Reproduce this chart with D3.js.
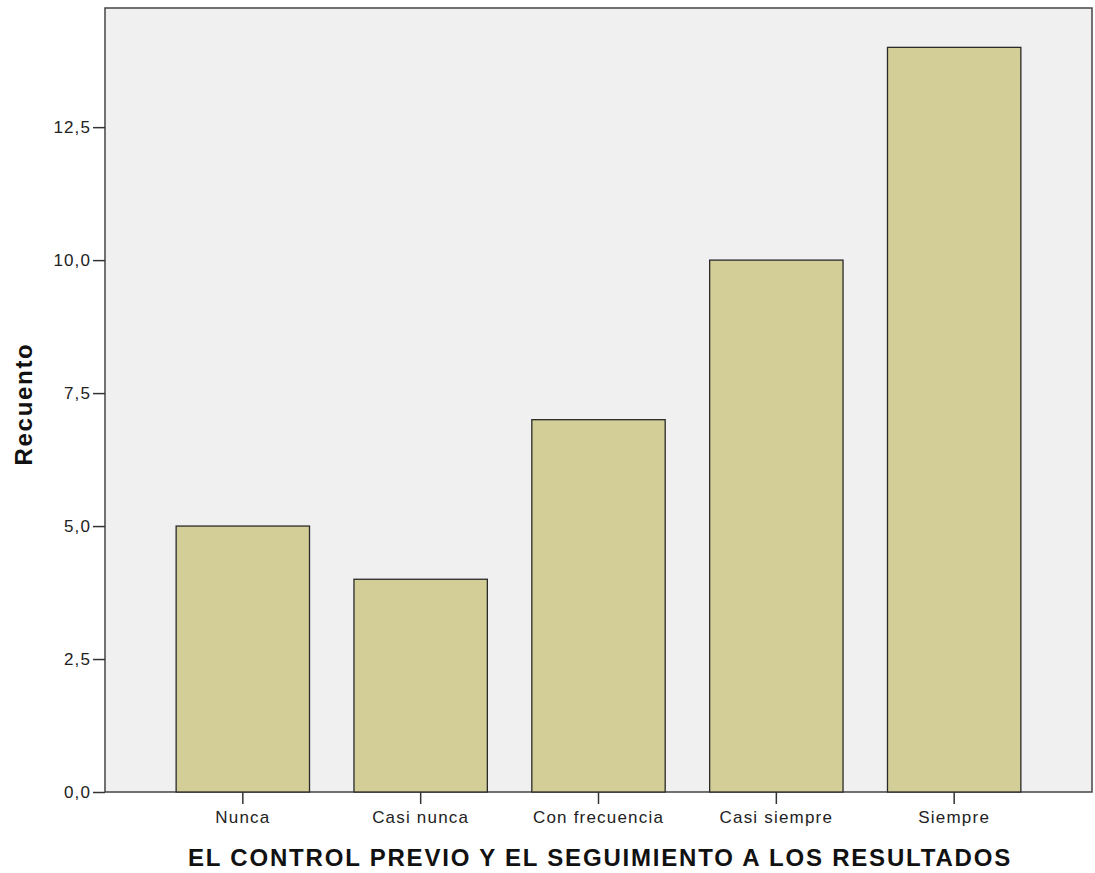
<!DOCTYPE html>
<html><head><meta charset="utf-8">
<script src="https://cdn.jsdelivr.net/npm/d3@7"></script>
<style>body{margin:0;background:#fff}svg{display:block}</style>
</head><body>
<script>
const categories = ["Nunca","Casi nunca","Con frecuencia","Casi siempre","Siempre"];
const counts = [5,4,7,10,14];
const yTicks = [0,2.5,5,7.5,10,12.5];
const yTickLabels = ["0,0","2,5","5,0","7,5","10,0","12,5"];
const xTitle = "EL CONTROL PREVIO Y EL SEGUIMIENTO A LOS RESULTADOS";
const yTitle = "Recuento";

const W=1095,H=873;
const m={left:105,top:8,right:1092,bottom:792};
const FONT="Liberation Sans, Arial, sans-serif";
const svg=d3.select("body").append("svg").attr("width",W).attr("height",H);
const x=d3.scaleBand().domain(categories).range([m.left,m.right]).paddingInner(0.25).paddingOuter(0.4);
const y=d3.scaleLinear().domain([0,14.74]).range([m.bottom,m.top]);

svg.append("rect").attr("x",m.left).attr("y",m.top).attr("width",m.right-m.left).attr("height",m.bottom-m.top)
  .attr("fill","#f0f0f0").attr("stroke","#444").attr("stroke-width",1.5);

svg.selectAll("rect.bar").data(counts).enter().append("rect").attr("class","bar")
  .attr("x",(d,i)=>x(categories[i])).attr("width",x.bandwidth())
  .attr("y",d=>y(d)).attr("height",d=>y(0)-y(d))
  .attr("fill","#d3ce97").attr("stroke","#2a2a2a").attr("stroke-width",1.3);

const ya=svg.append("g").attr("transform",`translate(${m.left},0)`)
  .call(d3.axisLeft(y).tickValues(yTicks).tickFormat((d,i)=>yTickLabels[i]).tickSize(12).tickPadding(2));
ya.select(".domain").remove();
ya.selectAll("line").attr("stroke","#333").attr("stroke-width",1.5);
ya.selectAll("text").attr("font-family",FONT).attr("font-size",17).attr("letter-spacing","1.1px").attr("fill","#222");

const xa=svg.append("g").attr("transform",`translate(0,${m.bottom})`)
  .call(d3.axisBottom(x).tickSize(12).tickPadding(7));
xa.select(".domain").remove();
xa.selectAll("line").attr("stroke","#333").attr("stroke-width",1.5);
xa.selectAll("text").attr("font-family",FONT).attr("font-size",17).attr("letter-spacing","1.2px").attr("fill","#222");

svg.append("text").attr("x",600).attr("y",866).attr("text-anchor","middle")
  .attr("font-family",FONT).attr("font-weight","bold").attr("font-size",24).attr("letter-spacing","1.8px").attr("fill","#111").text(xTitle);
svg.append("text").attr("transform",`translate(32,404) rotate(-90)`).attr("text-anchor","middle")
  .attr("font-family",FONT).attr("font-weight","bold").attr("font-size",24).attr("letter-spacing","1.7px").attr("fill","#111").text(yTitle);
</script>
</body></html>
